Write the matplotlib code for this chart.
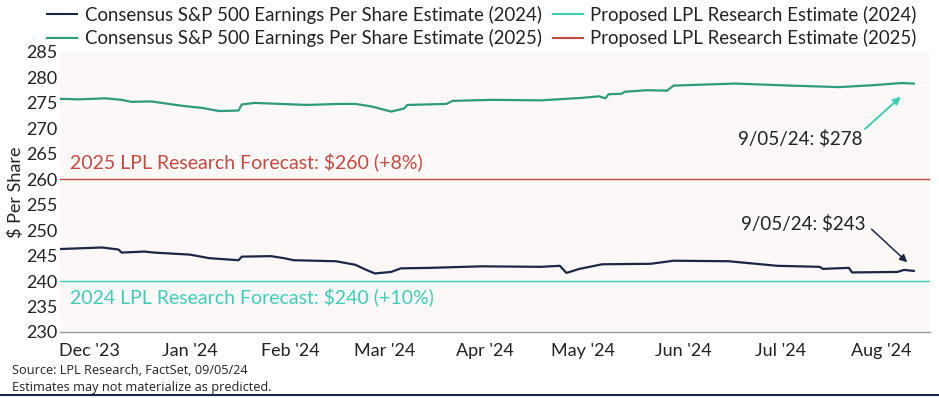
"""
Consensus S&P 500 EPS estimates (2024 / 2025) vs LPL Research forecasts.
"""

import matplotlib.pyplot as plt
import numpy as np
import pandas as pd
from matplotlib.lines import Line2D

plt.rcParams["font.family"] = ["Lato", "DejaVu Sans"]

# Consensus EPS estimate for 2025
eps25_dates = [
    "2023-12-17", "2023-12-23", "2023-12-31", "2024-01-05", "2024-01-08",
    "2024-01-14", "2024-01-24", "2024-01-30", "2024-02-04", "2024-02-10",
    "2024-02-11", "2024-02-15", "2024-03-02", "2024-03-12", "2024-03-17",
    "2024-03-22", "2024-03-28", "2024-04-01", "2024-04-02", "2024-04-14",
    "2024-04-16", "2024-04-28", "2024-05-13", "2024-05-26", "2024-05-31",
    "2024-06-02", "2024-06-03", "2024-06-07", "2024-06-08", "2024-06-15",
    "2024-06-21", "2024-06-23", "2024-07-12", "2024-07-29", "2024-08-13",
    "2024-08-24", "2024-09-01", "2024-09-05",
]
eps25_values = [
    275.8, 275.7, 275.9, 275.6, 275.2,
    275.3, 274.4, 274.0, 273.4, 273.5,
    274.7, 275.0, 274.6, 274.8, 274.8,
    274.3, 273.3, 273.9, 274.6, 274.8,
    275.4, 275.6, 275.5, 276.0, 276.3,
    275.9, 276.7, 276.8, 277.2, 277.5,
    277.4, 278.4, 278.8, 278.4, 278.1,
    278.5, 278.9, 278.8,
]

# Consensus EPS estimate for 2024
eps24_dates = [
    "2023-12-17", "2023-12-30", "2024-01-04", "2024-01-05", "2024-01-12",
    "2024-01-15", "2024-01-26", "2024-02-01", "2024-02-10", "2024-02-11",
    "2024-02-20", "2024-02-24", "2024-02-27", "2024-03-11", "2024-03-17",
    "2024-03-20", "2024-03-23", "2024-03-28", "2024-03-31", "2024-04-09",
    "2024-04-25", "2024-05-13", "2024-05-19", "2024-05-21", "2024-05-25",
    "2024-06-01", "2024-06-16", "2024-06-23", "2024-07-10", "2024-07-25",
    "2024-08-07", "2024-08-08", "2024-08-16", "2024-08-17", "2024-08-31",
    "2024-09-02", "2024-09-05",
]
eps24_values = [
    246.3, 246.6, 246.2, 245.6, 245.8,
    245.6, 245.2, 244.5, 244.1, 244.8,
    244.9, 244.5, 244.1, 243.9, 243.2,
    242.3, 241.5, 241.8, 242.5, 242.6,
    242.9, 242.8, 243.0, 241.6, 242.4,
    243.3, 243.4, 244.0, 243.9, 243.0,
    242.8, 242.4, 242.6, 241.7, 241.8,
    242.2, 242.0,
]

forecast_2025 = 260
forecast_2024 = 240
tick_dates = [
    "2023-12-26", "2024-01-26", "2024-02-26", "2024-03-26", "2024-04-26",
    "2024-05-26", "2024-06-26", "2024-07-26", "2024-08-26",
]
tick_labels = [
    "Dec '23", "Jan '24", "Feb '24", "Mar '24", "Apr '24",
    "May '24", "Jun '24", "Jul '24", "Aug '24",
]

NAVY = "#1b2845"
GREEN = "#2e9a7e"
AQUA = "#3ccfb4"
RED = "#c9483f"
BG = "#fbf8f7"
TXT = "#222222"

fig = plt.figure(figsize=(9.39, 3.98), dpi=100)
ax = fig.add_axes([60 / 939, 66 / 398, 870 / 939, 280 / 398])
ax.set_facecolor(BG)

d25 = pd.to_datetime(eps25_dates)
d24 = pd.to_datetime(eps24_dates)

ax.axhline(forecast_2025, color=RED, lw=1.0, zorder=2)
ax.axhline(forecast_2024, color=AQUA, lw=1.0, zorder=2)
ax.plot(d25, eps25_values, color=GREEN, lw=1.6, zorder=3)
ax.plot(d24, eps24_values, color=NAVY, lw=1.6, zorder=3)

ax.set_ylim(230, 285)
ax.set_yticks(np.arange(230, 286, 5))
ax.set_xlim(pd.Timestamp("2023-12-17"), pd.Timestamp("2024-09-10"))
ax.set_xticks(pd.to_datetime(tick_dates))
ax.set_xticklabels(tick_labels)
ax.tick_params(axis="both", length=0, labelsize=13, colors=TXT)
ax.tick_params(axis="x", pad=8)
ax.tick_params(axis="y", pad=2)
for side in ("top", "right", "left"):
    ax.spines[side].set_visible(False)
ax.spines["bottom"].set_color("#9a9a9a")
ax.spines["bottom"].set_linewidth(1.0)
ax.set_ylabel("$ Per Share", fontsize=13, color=TXT, labelpad=1)

ax.text(pd.Timestamp("2023-12-20"), 263.4,
        f"2025 LPL Research Forecast: ${forecast_2025} (+8%)",
        color=RED, fontsize=14, va="center", ha="left")
ax.text(pd.Timestamp("2023-12-20"), 237.0,
        f"2024 LPL Research Forecast: ${forecast_2024} (+10%)",
        color=AQUA, fontsize=14, va="center", ha="left")

# latest-value callouts
ax.text(pd.Timestamp("2024-08-01"), 267.9, "9/05/24: $278",
        fontsize=13.5, color=TXT, ha="center", va="center")
ax.annotate("", xy=(pd.Timestamp("2024-09-01"), 276.2),
            xytext=(pd.Timestamp("2024-08-21"), 269.9),
            arrowprops=dict(arrowstyle="-|>", color=AQUA, lw=1.4,
                            shrinkA=0, shrinkB=0, mutation_scale=11))
ax.text(pd.Timestamp("2024-08-02"), 251.2, "9/05/24: $243",
        fontsize=13.5, color=TXT, ha="center", va="center")
ax.annotate("", xy=(pd.Timestamp("2024-09-03"), 243.7),
            xytext=(pd.Timestamp("2024-08-23"), 250.2),
            arrowprops=dict(arrowstyle="-|>", color=NAVY, lw=1.1,
                            shrinkA=0, shrinkB=0, mutation_scale=11))

handles = [
    Line2D([], [], color=NAVY, lw=1.5),
    Line2D([], [], color=GREEN, lw=1.5),
    Line2D([], [], color=AQUA, lw=1.5),
    Line2D([], [], color=RED, lw=1.5),
]
labels = [
    "Consensus S&P 500 Earnings Per Share Estimate (2024)",
    "Consensus S&P 500 Earnings Per Share Estimate (2025)",
    "Proposed LPL Research Estimate (2024)",
    "Proposed LPL Research Estimate (2025)",
]
fig.legend(handles, labels, ncol=2, loc="upper left",
           bbox_to_anchor=(40 / 939, 1.005), frameon=False,
           fontsize=13.4, handlelength=1.6, handletextpad=0.4,
           columnspacing=0.6, labelspacing=0.3, borderaxespad=0.0,
           labelcolor=TXT)

fig.text(12 / 939, 1 - 370 / 398, "Source: LPL Research, FactSet, 09/05/24",
         fontsize=9.2, color=TXT, family=["Open Sans", "DejaVu Sans"], va="center")
fig.text(12 / 939, 1 - 387 / 398, "Estimates may not materialize as predicted.",
         fontsize=9.2, color=TXT, family=["Open Sans", "DejaVu Sans"], va="center")
fig.add_artist(Line2D([0, 1], [3.5 / 398, 3.5 / 398], color=NAVY, lw=1.5,
                      transform=fig.transFigure))

fig.savefig("out.png", dpi=100)
